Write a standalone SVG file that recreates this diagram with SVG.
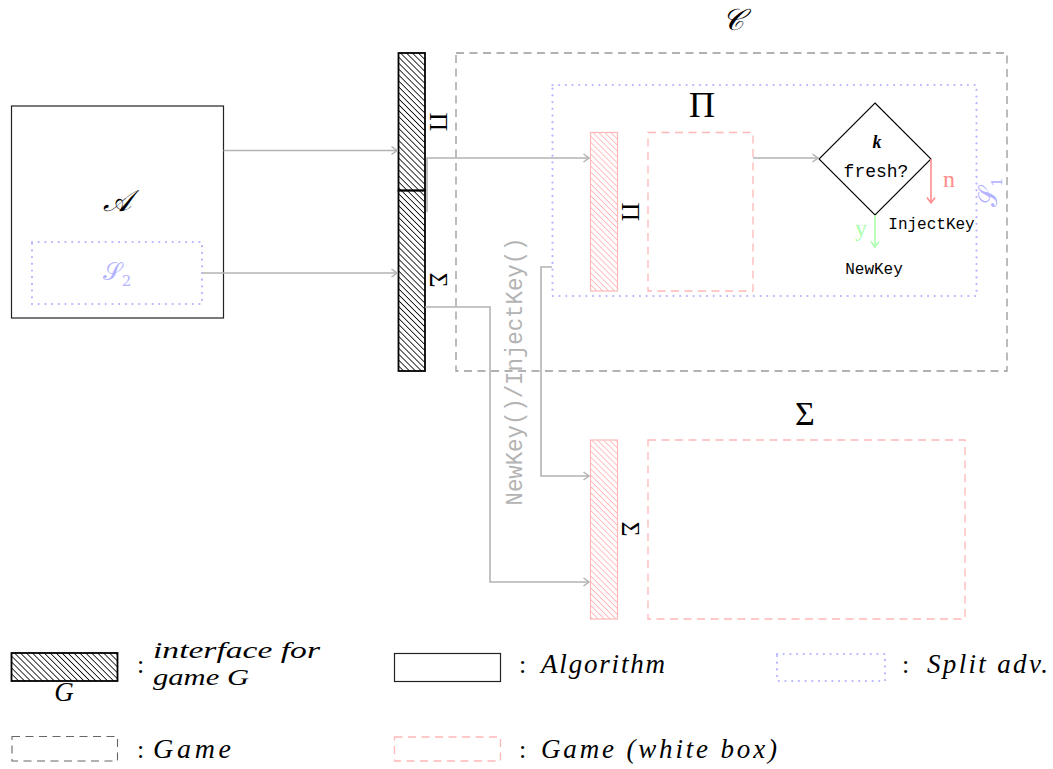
<svg xmlns="http://www.w3.org/2000/svg" width="1053" height="769" viewBox="0 0 1053 769">
<style>
.alg{fill:#fff;stroke:#222;stroke-width:1.2}
.game{fill:none;stroke:#999;stroke-width:1.3;stroke-dasharray:8 5.5}
.wbox{fill:none;stroke:#ffb8b8;stroke-width:1.3;stroke-dasharray:8 5.5}
.split{fill:none;stroke:#b3b3ff;stroke-width:2.2;stroke-linecap:round;stroke-dasharray:0 6.7}
.iface{fill:url(#hatch);stroke:#000;stroke-width:1.8}
.ifacep{fill:url(#hatchP);stroke:#ffb8b8;stroke-width:1.2}
.conn{fill:none;stroke:#b3b3b3;stroke-width:1.6}
.math{font-family:"Liberation Serif","DejaVu Serif",serif;font-style:italic;fill:#000}
.rm{font-family:"Liberation Serif","DejaVu Serif",serif;fill:#000}
.cal{font-family:"DejaVu Serif","Noto Sans","Liberation Serif",serif;fill:#000}
.tt{font-family:"Liberation Mono","DejaVu Sans Mono",monospace;fill:#000}
</style>
<defs>
<pattern id="hatch" patternUnits="userSpaceOnUse" width="4.2" height="4.2" patternTransform="rotate(-45)">
<line x1="2.1" y1="-1" x2="2.1" y2="6" stroke="#000" stroke-width="0.8"/>
</pattern>
<pattern id="hatchP" patternUnits="userSpaceOnUse" width="4.2" height="4.2" patternTransform="rotate(-45)">
<line x1="2.1" y1="-1" x2="2.1" y2="6" stroke="#ffb0b0" stroke-width="0.8"/>
</pattern>
<marker id="ag" viewBox="-7 -5 8 10" refX="0" refY="0" markerWidth="8" markerHeight="10" markerUnits="userSpaceOnUse" orient="auto">
<path d="M-5.5,-4 L0,0 L-5.5,4" fill="none" stroke="#b3b3b3" stroke-width="1.5"/>
</marker>
<marker id="ar" viewBox="-7 -5 8 10" refX="0" refY="0" markerWidth="8" markerHeight="10" markerUnits="userSpaceOnUse" orient="auto">
<path d="M-5.5,-4 L0,0 L-5.5,4" fill="none" stroke="#ff8c8c" stroke-width="1.5"/>
</marker>
<marker id="ay" viewBox="-7 -5 8 10" refX="0" refY="0" markerWidth="8" markerHeight="10" markerUnits="userSpaceOnUse" orient="auto">
<path d="M-5.5,-4 L0,0 L-5.5,4" fill="none" stroke="#aaffaa" stroke-width="1.5"/>
</marker>
</defs>
<rect width="1053" height="769" fill="#fff"/>

<g id="game-C">
<rect class="game" x="456" y="53" width="551" height="318"/>
<text class="cal" x="733" y="30" font-size="30" text-anchor="middle" font-style="italic">𝒞</text>
</g>

<g id="split-S1">
<rect class="split" x="552.5" y="85" width="424" height="211"/>
<text class="cal" transform="translate(997,192) rotate(-90)" text-anchor="middle" font-size="26" style="fill:#b3b3ff">𝒮<tspan font-size="15" dy="5">1</tspan></text>
</g>

<g id="adversary-A">
<rect class="alg" x="11.5" y="106" width="212" height="212"/>
<text class="cal" x="117" y="211" font-size="30" text-anchor="middle" font-style="italic">𝒜</text>
</g>

<g id="split-S2">
<rect class="split" x="32" y="242" width="170" height="62"/>
<text class="cal" x="117" y="280" font-size="24" text-anchor="middle" style="fill:#b3b3ff">𝒮<tspan font-size="15" dy="6">2</tspan></text>
</g>

<g id="iface-Pi">
<rect class="iface" x="398.5" y="53" width="26.5" height="137.5"/>
<text class="rm" transform="translate(438,122) rotate(90)" text-anchor="middle" y="8.5" font-size="26">Π</text>
</g>
<g id="iface-Sigma">
<rect class="iface" x="398.5" y="190.5" width="26.5" height="180.5"/>
<text class="rm" transform="translate(438,280) rotate(90)" text-anchor="middle" y="8.5" font-size="26">Σ</text>
</g>

<g id="game-Pi">
<rect class="ifacep" x="590.5" y="132.5" width="27" height="158.5"/>
<text class="rm" transform="translate(630,212) rotate(90)" text-anchor="middle" y="8.5" font-size="26">Π</text>
<rect class="wbox" x="648" y="132.5" width="105" height="158.5"/>
<text class="rm" x="702" y="117" font-size="36" text-anchor="middle">Π</text>
</g>

<g id="decision">
<polygon points="875,103 931,159 875,215 819,159" fill="#fff" stroke="#000" stroke-width="1.1"/>
<text class="math" x="877" y="148" font-size="18" font-weight="bold" text-anchor="middle">k</text>
<text class="tt" x="876" y="177" font-size="18" text-anchor="middle">fresh?</text>
</g>

<g id="label-InjectKey">
<text class="tt" x="931.5" y="229" font-size="16" text-anchor="middle">InjectKey</text>
</g>
<g id="label-NewKey">
<text class="tt" x="874" y="274" font-size="16" text-anchor="middle">NewKey</text>
</g>

<g id="game-Sigma">
<rect class="ifacep" x="590.5" y="440" width="27" height="179"/>
<text class="rm" transform="translate(630,529) rotate(90)" text-anchor="middle" y="8.5" font-size="26">Σ</text>
<rect class="wbox" x="648" y="440" width="317" height="179"/>
<text class="rm" x="805" y="425" font-size="34" text-anchor="middle">Σ</text>
</g>

<g id="connectors">
<path class="conn" d="M223.5,150.5 H397" marker-end="url(#ag)"/>
<path class="conn" d="M202,273 H397" marker-end="url(#ag)"/>
<path class="conn" d="M427,212 V158 H589" marker-end="url(#ag)"/>
<path class="conn" d="M425,307 H490 V582 H589" marker-end="url(#ag)"/>
<path class="conn" d="M552,267 H541 V476 H589" marker-end="url(#ag)"/>
<path class="conn" d="M753,158 H818" marker-end="url(#ag)"/>
<path d="M931,159 V203" fill="none" stroke="#ff8c8c" stroke-width="1.6" marker-end="url(#ar)"/>
<path d="M875,215 V247" fill="none" stroke="#aaffaa" stroke-width="1.6" marker-end="url(#ay)"/>
<text class="rm" x="943" y="187" font-size="24" style="fill:#ff8c8c">n</text>
<text class="rm" x="861" y="236" font-size="24" text-anchor="middle" style="fill:#aaffaa">y</text>
<text class="tt" transform="translate(522,371.5) rotate(-90)" text-anchor="middle" font-size="23" textLength="268" lengthAdjust="spacingAndGlyphs" style="fill:#b3b3b3">NewKey()/InjectKey()</text>
</g>

<g id="legend">
<rect class="iface" x="11.5" y="653" width="106" height="28"/>
<text class="math" x="64" y="701" font-size="27" text-anchor="middle">G</text>
<text class="rm" x="137" y="673" font-size="26">:</text>
<text class="math" x="153" y="658" font-size="23" textLength="167" lengthAdjust="spacingAndGlyphs">interface for</text>
<text class="math" x="153" y="685" font-size="23" textLength="96" lengthAdjust="spacingAndGlyphs">game G</text>

<rect class="alg" x="394.5" y="653.5" width="106" height="28"/>
<text class="rm" x="519" y="673" font-size="26">:</text>
<text class="math" x="541" y="673" font-size="27" textLength="124" lengthAdjust="spacing">Algorithm</text>

<rect class="split" x="777" y="654" width="108" height="27"/>
<text class="rm" x="902" y="673" font-size="26">:</text>
<text class="math" x="927" y="673" font-size="27" textLength="121" lengthAdjust="spacing">Split adv.</text>

<rect x="12" y="736.5" width="105.5" height="24.5" fill="none" stroke="#666" stroke-width="1.1" stroke-dasharray="8 5.5"/>
<text class="rm" x="137" y="758" font-size="26">:</text>
<text class="math" x="153" y="758" font-size="28" textLength="78" lengthAdjust="spacing">Game</text>

<rect class="wbox" x="394.5" y="737" width="106" height="24"/>
<text class="rm" x="519" y="758" font-size="26">:</text>
<text class="math" x="541" y="758" font-size="27" textLength="236" lengthAdjust="spacing">Game (white box)</text>
</g>
</svg>
